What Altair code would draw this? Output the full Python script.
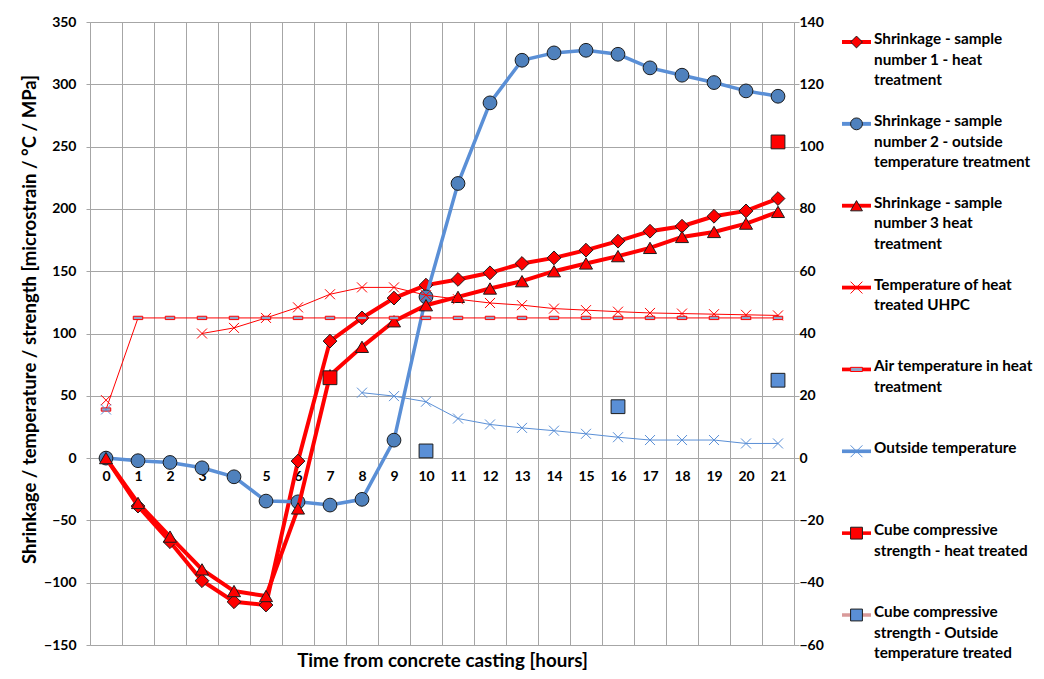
import altair as alt
import pandas as pd

# ---------------- data ----------------
hours = list(range(22))

# left axis: shrinkage [microstrain]
shrinkage_1 = [0, -38.5, -67.1, -98.4, -115.3, -117.9, -2.4, 93.9, 112.5, 128.4, 138.8,
               143.4, 148.7, 156.2, 160.7, 166.9, 174.1, 182.1, 186.1, 194.1, 198.4, 208.3]
shrinkage_2 = [0, -2.1, -3.5, -7.8, -15.0, -34.5, -35.1, -37.7, -33.1, 14.4, 129.4,
               220.4, 285.1, 319.3, 325.2, 327.3, 324.1, 313.2, 307.3, 301.4, 294.7, 290.4]
shrinkage_3 = [0, -36.0, -63.0, -89.3, -106.7, -110.7, -40.4, 66.5, 89.3, 109.8, 122.7,
               129.4, 136.1, 142.0, 150.0, 156.2, 162.1, 168.7, 177.5, 181.5, 188.2, 197.6]

# right axis: temperature [°C] and strength [MPa]
temp_uhpc = [18.6, None, None, 40.0, 41.8, 45.0, 48.4, 52.6, 54.8, 54.8, 52.3,
             51.0, 49.8, 49.1, 48.0, 47.5, 47.0, 46.6, 46.4, 46.2, 46.0, 45.8]
temp_air = [15.6, 45, 45, 45, 45, 45, 45, 45, 45, 45, 45,
            45, 45, 45, 45, 45, 45, 45, 45, 45, 45, 45]
temp_outside = [15.6, None, None, None, None, None, None, None, 21.0, 19.9, 18.1,
                12.7, 10.8, 9.7, 8.8, 7.8, 6.7, 5.8, 5.8, 5.8, 4.7, 4.7]
strength_heat = [None, None, None, None, None, None, None, 25.8, None, None, None,
                 None, None, None, None, None, None, None, None, None, None, 101.5]
strength_outside = [None, None, None, None, None, None, None, None, None, None, 2.3,
                    None, None, None, None, None, 16.5, None, None, None, None, 25.0]

legend_names = [
    "Shrinkage - sample\nnumber 1 - heat\ntreatment",
    "Shrinkage - sample\nnumber 2 - outside\ntemperature treatment",
    "Shrinkage - sample\nnumber 3 heat\ntreatment",
    "Temperature of heat\ntreated UHPC",
    "Air temperature in heat\ntreatment",
    "Outside temperature",
    "Cube compressive\nstrength - heat treated",
    "Cube compressive\nstrength - Outside\ntemperature treated",
]

# ---------------- styles ----------------
RED = "#FF0000"
BLUE_LINE = "#5A8FD6"
BLUE_FILL = "#4F81BD"
DARK = "#1c1c1c"
GRID = "#A6A6A6"
FONT = "Lato"
XSHAPE = "M-1,-1L1,1M-1,1L1,-1"
DASH = "M-1,-0.35L1,-0.35L1,0.35L-1,0.35Z"


def frame(values):
    rows, seg = [], 0
    for h, v in zip(hours, values):
        if v is None:
            seg += 1
            continue
        rows.append({"hour": h, "value": v, "seg": seg})
    return pd.DataFrame(rows)


x_enc = alt.X(
    "hour:O",
    scale=alt.Scale(type="band", domain=hours, paddingInner=0, paddingOuter=0),
    axis=alt.Axis(
        title="Time from concrete casting [hours]",
        tickBand="extent", grid=True, gridColor=GRID, gridWidth=1,
        domain=False, ticks=False, labelAngle=0, labelPadding=11,
        labelFont=FONT, labelFontSize=14, labelFontWeight="bold", labelColor="#000",
        offset=-187, titleY=202, titleBaseline="middle",
        titleFont=FONT, titleFontSize=18.8, titleFontWeight="bold", titleColor="#000",
    ),
)

y_left = alt.Y(
    "value:Q",
    scale=alt.Scale(domain=[-150, 350], nice=False, zero=False),
    axis=alt.Axis(
        values=list(range(-150, 351, 50)),
        title="Shrinkage / temperature / strength [microstrain / °C / MPa]",
        grid=True, gridColor=GRID, domainColor=GRID, tickColor=GRID, tickSize=4,
        labelPadding=10, labelFont=FONT, labelFontSize=14, labelFontWeight="bold",
        labelColor="#000", titleFont=FONT, titleFontSize=18.5, titleFontWeight="bold",
        titleColor="#000", titlePadding=4, titleY=297,
    ),
)

y_right = alt.Y(
    "value:Q",
    scale=alt.Scale(domain=[-60, 140], nice=False, zero=False),
    axis=alt.Axis(
        orient="right", values=list(range(-60, 141, 20)), title=None,
        grid=False, domainColor=GRID, tickColor=GRID, tickSize=5,
        labelPadding=0, labelFont=FONT, labelFontSize=14, labelFontWeight="bold",
        labelColor="#000",
    ),
)


def line(df, y, color, width):
    return alt.Chart(df).mark_line(color=color, strokeWidth=width).encode(
        x=x_enc, y=y, detail="seg:N")


def points(df, y, shape, size, fill, stroke, sw=1, filled=True):
    return alt.Chart(df).mark_point(
        shape=shape, size=size, filled=filled, fill=fill, stroke=stroke,
        strokeWidth=sw, opacity=1).encode(x=x_enc, y=y)


d1, d2, d3 = frame(shrinkage_1), frame(shrinkage_2), frame(shrinkage_3)
d4, d5, d6 = frame(temp_uhpc), frame(temp_air), frame(temp_outside)
d7, d8 = frame(strength_heat), frame(strength_outside)

left = alt.layer(
    line(d1, y_left, RED, 4), points(d1, y_left, "diamond", 190, RED, DARK),
    line(d2, y_left, BLUE_LINE, 3.5), points(d2, y_left, "circle", 190, BLUE_FILL, DARK),
    line(d3, y_left, RED, 4), points(d3, y_left, "triangle-up", 170, RED, DARK),
)

right = alt.layer(
    line(d4, y_right, RED, 1), points(d4, y_right, XSHAPE, 100, "transparent", RED, 1, False),
    line(d5, y_right, RED, 1), points(d5, y_right, DASH, 90, "#8FA6C8", RED, 1),
    line(d6, y_right, BLUE_LINE, 1), points(d6, y_right, XSHAPE, 100, "transparent", BLUE_LINE, 1, False),
    points(d7, y_right, "square", 190, RED, DARK),
    points(d8, y_right, "square", 190, "#5A8FD6", DARK),
)

main = alt.layer(left, right).resolve_scale(y="independent").properties(width=704, height=623)

# ---------------- legend ----------------
leg_df = pd.DataFrame({"name": legend_names, "order": list(range(len(legend_names)))})
leg_line_colors = [RED, BLUE_LINE, RED, RED, RED, BLUE_LINE, RED, "#D99A9A"]
leg_line_widths = [4, 3.5, 4, 1, 1, 1, 4, 4]
leg_shapes = ["diamond", "circle", "triangle-up", XSHAPE, DASH, XSHAPE, "square", "square"]
leg_fills = [RED, BLUE_FILL, RED, "transparent", "#8FA6C8", "transparent", RED, "#5A8FD6"]
leg_strokes = [DARK, DARK, DARK, RED, RED, BLUE_LINE, DARK, DARK]
leg_sizes = [140, 140, 130, 100, 90, 100, 140, 140]

y_leg = alt.Y("name:N", sort=legend_names,
              scale=alt.Scale(type="point", domain=legend_names, range=[20, 593], padding=0),
              axis=None)

leg_rule = alt.Chart(leg_df).mark_rule().encode(
    x=alt.value(0), x2=alt.value(29), y=y_leg,
    color=alt.Color("name:N", scale=alt.Scale(domain=legend_names, range=leg_line_colors), legend=None),
    strokeWidth=alt.StrokeWidth("name:N", scale=alt.Scale(domain=legend_names, range=leg_line_widths), legend=None),
)
leg_pt = alt.Chart(leg_df).mark_point(filled=True, opacity=1, strokeWidth=1).encode(
    x=alt.value(14.5), y=y_leg,
    shape=alt.Shape("name:N", scale=alt.Scale(domain=legend_names, range=leg_shapes), legend=None),
    fill=alt.Fill("name:N", scale=alt.Scale(domain=legend_names, range=leg_fills), legend=None),
    stroke=alt.Stroke("name:N", scale=alt.Scale(domain=legend_names, range=leg_strokes), legend=None),
    size=alt.Size("name:N", scale=alt.Scale(domain=legend_names, range=leg_sizes), legend=None),
)
leg_txt = alt.Chart(leg_df).mark_text(
    align="left", baseline="top", dy=-10, lineBreak="\n", lineHeight=20.7,
    font=FONT, fontSize=15.3, fontWeight="bold", color="#000",
    limit=161, ellipsis="\u200b",
).encode(x=alt.value(32), y=y_leg, text="name:N")

legend = alt.layer(leg_rule, leg_pt, leg_txt).resolve_scale(
    color="independent", shape="independent", fill="independent",
    stroke="independent", size="independent", strokeWidth="independent",
).properties(width=150, height=623)

chart = alt.hconcat(main, legend, spacing=15).properties(
    padding={"left": 12, "top": 6, "right": 0, "bottom": 0},
    background="white",
).configure_view(stroke="transparent")

chart.save("out.html", embed_options={"renderer": "svg", "actions": False})
